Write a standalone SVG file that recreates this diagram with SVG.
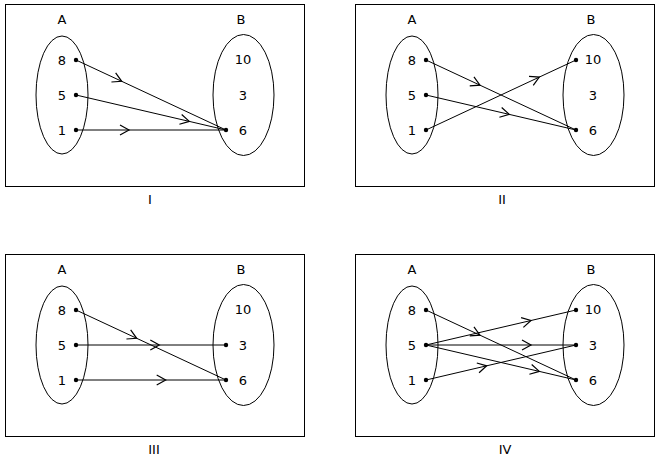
<svg xmlns="http://www.w3.org/2000/svg" width="659" height="463" viewBox="0 0 659 463">
<style>
.box{fill:none;stroke:#000;stroke-width:1}
.ell{fill:none;stroke:#000;stroke-width:1}
.t{font-family:"DejaVu Sans",sans-serif;font-size:13px;fill:#000;text-anchor:middle;dominant-baseline:central}
.c{font-family:"DejaVu Sans",sans-serif;font-size:13px;fill:#000;text-anchor:middle;dominant-baseline:central}
.ln{fill:none;stroke:#000;stroke-width:1;marker-mid:url(#arr)}
.dot{fill:#000}
</style>
<defs>
<marker id="arr" markerUnits="userSpaceOnUse" markerWidth="20" markerHeight="20" viewBox="-10 -10 20 20" refX="0" refY="0" orient="auto" overflow="visible">
<path d="M-9,-5 L0,0 L-9,5" fill="none" stroke="#000" stroke-width="1.2"/>
</marker>
<g id="sets">
<rect class="box" x="5.5" y="4.5" width="299" height="182"/>
<text class="t" x="62" y="19">A</text>
<text class="t" x="241" y="19">B</text>
<ellipse class="ell" cx="62" cy="95" rx="26" ry="59"/>
<ellipse class="ell" cx="243.5" cy="95" rx="30.5" ry="60.5"/>
<text class="t" x="62" y="60">8</text>
<text class="t" x="62" y="95">5</text>
<text class="t" x="62" y="130">1</text>
<text class="t" x="243" y="59">10</text>
<text class="t" x="243" y="95">3</text>
<text class="t" x="243" y="130">6</text>
</g>
</defs>
<g id="panel-I">
<use href="#sets"/>
<text class="c" x="150" y="199">I</text>
</g>
<g id="panel-II" transform="translate(350,0)">
<use href="#sets"/>
<text class="c" x="152" y="199">II</text>
</g>
<g id="panel-III" transform="translate(0,250)">
<use href="#sets"/>
<text class="c" x="154" y="199">III</text>
</g>
<g id="panel-IV" transform="translate(350,250)">
<use href="#sets"/>
<text class="c" x="155" y="199">IV</text>
</g>
<g id="connectors">
<path class="ln" d="M76,60 L121.7,81.3 L226,130"/>
<path class="ln" d="M76,95 L189.3,121.4 L226,130"/>
<path class="ln" d="M76,130 L129,130 L226,130"/>
<path class="ln" d="M426,60 L480,85.2 L576,130"/>
<path class="ln" d="M426,95 L509.3,114.4 L576,130"/>
<path class="ln" d="M426,130 L539.3,77.1 L576,60"/>
<path class="ln" d="M76,310 L136.7,338.3 L226,380"/>
<path class="ln" d="M76,345 L159.3,345 L226,345"/>
<path class="ln" d="M76,380 L165.7,380 L226,380"/>
<path class="ln" d="M426,310 L480,335.2 L576,380"/>
<path class="ln" d="M426,345 L531,320.5 L576,310"/>
<path class="ln" d="M426,345 L531,345 L576,345"/>
<path class="ln" d="M426,345 L539.3,371.4 L576,380"/>
<path class="ln" d="M426,380 L486.7,365.8 L576,345"/>
</g>
<g id="dots">
<circle class="dot" cx="76" cy="60" r="2.2"/><circle class="dot" cx="76" cy="95" r="2.2"/><circle class="dot" cx="76" cy="130" r="2.2"/><circle class="dot" cx="226" cy="130" r="2.2"/>
<circle class="dot" cx="426" cy="60" r="2.2"/><circle class="dot" cx="426" cy="95" r="2.2"/><circle class="dot" cx="426" cy="130" r="2.2"/><circle class="dot" cx="576" cy="60" r="2.2"/><circle class="dot" cx="576" cy="130" r="2.2"/>
<circle class="dot" cx="76" cy="310" r="2.2"/><circle class="dot" cx="76" cy="345" r="2.2"/><circle class="dot" cx="76" cy="380" r="2.2"/><circle class="dot" cx="226" cy="345" r="2.2"/><circle class="dot" cx="226" cy="380" r="2.2"/>
<circle class="dot" cx="426" cy="310" r="2.2"/><circle class="dot" cx="426" cy="345" r="2.2"/><circle class="dot" cx="426" cy="380" r="2.2"/><circle class="dot" cx="576" cy="310" r="2.2"/><circle class="dot" cx="576" cy="345" r="2.2"/><circle class="dot" cx="576" cy="380" r="2.2"/>
</g>
</svg>
